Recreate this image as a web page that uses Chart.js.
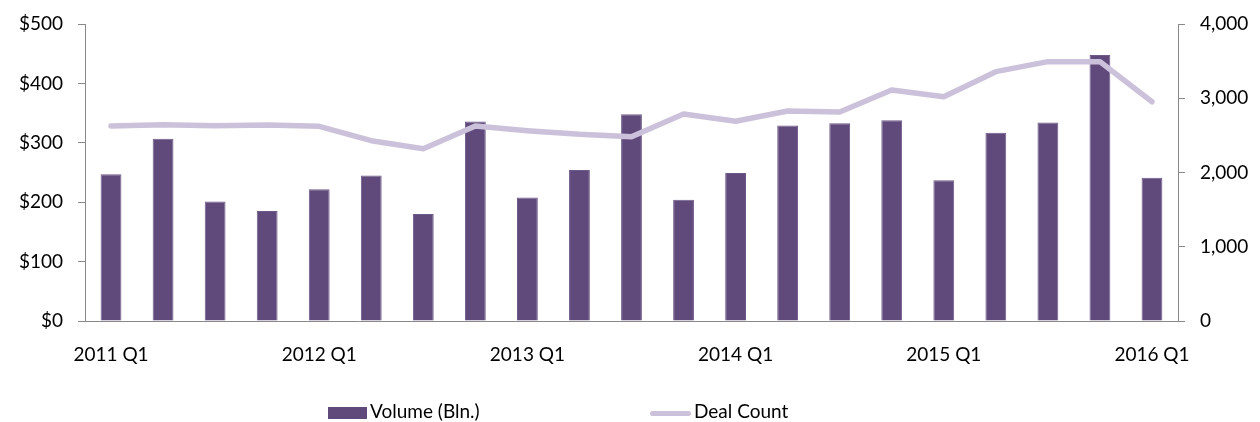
<!DOCTYPE html>
<html>
<head>
<meta charset="utf-8">
<script src="https://cdn.jsdelivr.net/npm/chart.js@4.4.1/dist/chart.umd.min.js"></script>
<style>
  html, body { margin: 0; padding: 0; background: #fff; }
  #wrap { position: relative; width: 1260px; height: 422px; }
  #legend { position: absolute; left: 0; top: 400px; width: 1260px; height: 22px; font-family: Lato, sans-serif; font-size: 19px; color: #000; }
  .item { position: absolute; top: 0; line-height: 22px; white-space: nowrap; }
  .sw { display: inline-block; vertical-align: middle; margin-right: 3px; }
</style>
</head>
<body>
<div id="wrap">
  <canvas id="c" width="1260" height="422"></canvas>
  <div id="legend"></div>
</div>
<script>
// quarterly volume (bars, left axis) and deal count (line, right axis)
const quarters = [
  '2011 Q1', '2011 Q2', '2011 Q3', '2011 Q4',
  '2012 Q1', '2012 Q2', '2012 Q3', '2012 Q4',
  '2013 Q1', '2013 Q2', '2013 Q3', '2013 Q4',
  '2014 Q1', '2014 Q2', '2014 Q3', '2014 Q4',
  '2015 Q1', '2015 Q2', '2015 Q3', '2015 Q4',
  '2016 Q1'
];
const volume = [247, 307, 201, 185, 222, 245, 180, 336, 208, 254, 348, 204, 249, 329, 333, 338, 237, 317, 334, 448, 241];
const dealCount = [2626, 2644, 2630, 2640, 2622, 2428, 2321, 2626, 2563, 2514, 2482, 2788, 2690, 2828, 2815, 3111, 3021, 3358, 3493, 3493, 2953];
const volumeTicks = [0, 100, 200, 300, 400, 500];
const countTicks = [0, 1000, 2000, 3000, 4000];

const BAR = '#604A7B';
const LINE = '#CCC1DA';
const AXIS = '#898989';
const FONT = { family: 'Lato, sans-serif', size: 19 };

const legendEl = document.getElementById('legend');
legendEl.innerHTML =
  '<div class="item" style="left:328px"><span class="sw" style="width:39px;height:12px;background:' + BAR + '"></span>Volume (Bln.)</div>' +
  '<div class="item" style="left:650px"><span class="sw" style="width:41px;height:5px;border-radius:3px;background:' + LINE + '"></span>Deal Count</div>';

// vertical axes: fixed width, and don't let tick padding push the plot top down
function fitSide(width) {
  return s => { s.width = width; s.paddingTop = 12; s.paddingBottom = 12; };
}

const ctx = document.getElementById('c').getContext('2d');
new Chart(ctx, {
  type: 'bar',
  data: {
    labels: quarters,
    datasets: [
      {
        type: 'line',
        label: 'Deal Count',
        data: dealCount,
        yAxisID: 'y1',
        borderColor: LINE,
        borderWidth: 5.5,
        borderCapStyle: 'round',
        borderJoinStyle: 'round',
        pointRadius: 0,
        tension: 0,
        order: 0,
      },
      {
        label: 'Volume (Bln.)',
        data: volume,
        yAxisID: 'y',
        backgroundColor: BAR,
        borderColor: '#6E5A88',
        borderWidth: 1,
        categoryPercentage: 1,
        barPercentage: 0.4,
        order: 1,
      },
    ],
  },
  options: {
    responsive: false,
    animation: false,
    layout: { padding: { top: 24, left: 0, right: 0, bottom: 0 } },
    plugins: { legend: { display: false }, tooltip: { enabled: false } },
    scales: {
      x: {
        grid: { display: false },
        border: { color: AXIS, width: 1 },
        ticks: {
          autoSkip: false, maxRotation: 0, color: '#000', font: FONT, padding: 14,
          callback: (v, i) => (i % 4 === 0 ? quarters[i] : ''),
        },
        afterFit: s => { s.height = 101; },
      },
      y: {
        position: 'left',
        min: 0, max: 500,
        afterBuildTicks: s => { s.ticks = volumeTicks.map(v => ({ value: v })); },
        grid: { drawOnChartArea: false, drawTicks: true, tickLength: 7, color: AXIS },
        border: { color: AXIS, width: 1 },
        ticks: { color: '#000', font: FONT, padding: 15, callback: v => '$' + v },
        afterFit: fitSide(85),
      },
      y1: {
        position: 'right',
        min: 0, max: 4000,
        afterBuildTicks: s => { s.ticks = countTicks.map(v => ({ value: v })); },
        grid: { drawOnChartArea: false, drawTicks: true, tickLength: 7, color: AXIS },
        border: { color: AXIS, width: 1 },
        ticks: { color: '#000', font: FONT, padding: 15, callback: v => v.toLocaleString('en-US') },
        afterFit: fitSide(82),
      },
    },
  },
});
</script>
</body>
</html>
